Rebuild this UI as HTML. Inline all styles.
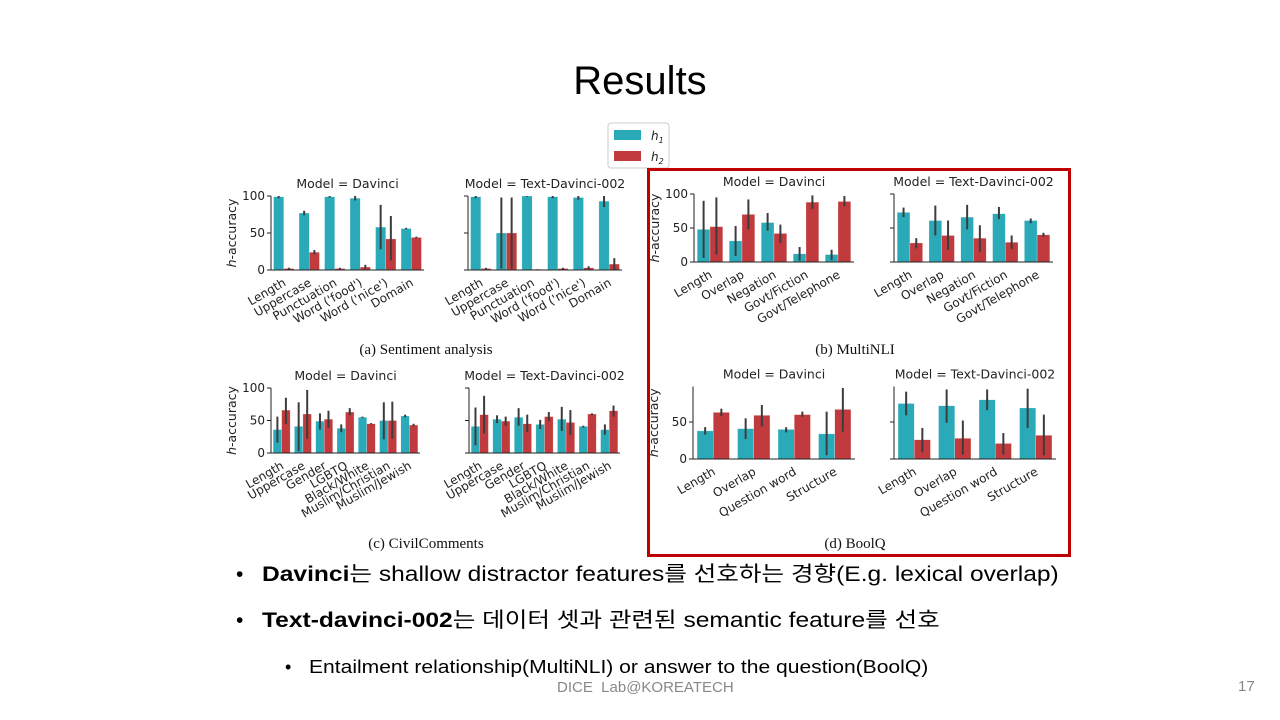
<!DOCTYPE html>
<html><head><meta charset="utf-8">
<style>
html,body{margin:0;padding:0;background:#fff;}
#root{position:relative;width:1280px;height:720px;overflow:hidden;font-family:"Liberation Sans","Noto Sans CJK KR",sans-serif;}
.t{position:absolute;white-space:nowrap;}
.b{transform-origin:0 50%;transform:scaleX(1.17);}
.l1{line-height:30px;height:30px;}
</style></head><body>
<div id="root">
<div class="t" style="left:0;width:1280px;text-align:center;top:59px;font-size:40px;color:#000;">Results</div>
<svg id="chart" width="1280" height="720" style="position:absolute;left:0;top:0" font-family="'DejaVu Sans','Liberation Sans',sans-serif"></svg>
<div class="t l1" style="left:236px;top:560px;font-size:21px;font-family:'Liberation Sans',sans-serif;">•</div>
<div class="t b l1" style="left:262px;top:560px;font-size:21px;"><b>Davinci</b>는 shallow distractor features를 선호하는 경향(E.g. lexical overlap)</div>
<div class="t l1" style="left:236px;top:606px;font-size:21px;font-family:'Liberation Sans',sans-serif;">•</div>
<div class="t b l1" style="left:262px;top:606px;font-size:21px;"><b>Text-davinci-002</b>는 데이터 셋과 관련된 semantic feature를 선호</div>
<div class="t l1" style="left:285px;top:652px;font-size:18px;font-family:'Liberation Sans',sans-serif;">•</div>
<div class="t b l1" style="left:309px;top:652px;font-size:18px;">Entailment relationship(MultiNLI) or answer to the question(BoolQ)</div>
<div class="t" style="left:557px;top:679px;font-size:15px;color:#888;">DICE&nbsp; Lab@KOREATECH</div>
<div class="t" style="left:1238px;top:678px;font-size:15px;color:#888;">17</div>
</div>
<script>
const catsA=["Length","Uppercase","Punctuation","Word ('food')","Word ('nice')","Domain"];
const aDavH1=[99,77,99,97,58,56], aDavH2=[2,24,2,4,42,44];
const aDavE1=[[97,100],[74,80],[98,100],[94,100],[28,88],[55,57]], aDavE2=[[0,3],[21,27],[1,3],[2,7],[13,73],[43,45]];
const aTdH1=[99,50,100,99,98,93], aTdH2=[2,50,1,2,3,8];
const aTdE1=[[97,100],[2,98],[99,100],[97,100],[95,100],[85,100]], aTdE2=[[1,3],[2,98],[0,1],[0,3],[1,5],[0,16]];
const catsB=["Length","Overlap","Negation","Govt/Fiction","Govt/Telephone"];
const bDavH1=[48,31,58,12,11], bDavH2=[52,70,42,88,89];
const bDavE1=[[6,90],[9,53],[46,72],[2,22],[3,18]], bDavE2=[[11,95],[48,92],[28,55],[78,98],[82,97]];
const bTdH1=[73,61,66,71,61], bTdH2=[28,39,35,29,40];
const bTdE1=[[66,80],[39,83],[48,84],[63,81],[57,64]], bTdE2=[[20,35],[18,61],[15,54],[19,39],[37,43]];
const catsC=["Length","Uppercase","Gender","LGBTQ","Black/White","Muslim/Christian","Muslim/Jewish"];
const cDavH1=[36,41,49,38,55,50,57], cDavH2=[66,60,52,63,45,50,43];
const cDavE1=[[16,56],[3,78],[36,61],[32,44],[54,56],[21,78],[55,59]], cDavE2=[[45,85],[22,97],[39,65],[58,69],[44,46],[22,79],[41,45]];
const cTdH1=[41,52,55,44,52,41,36], cTdH2=[59,49,45,56,47,60,65];
const cTdE1=[[12,70],[46,58],[42,69],[37,51],[34,71],[39,42],[28,44]], cTdE2=[[30,88],[42,56],[32,59],[49,63],[28,66],[58,61],[56,73]];
const catsD=["Length","Overlap","Question word","Structure"];
const dDavH1=[38,41,40,34], dDavH2=[63,59,60,67];
const dDavE1=[[33,43],[27,55],[36,43],[5,64]], dDavE2=[[58,68],[44,73],[57,64],[37,96]];
const dTdH1=[75,72,80,69], dTdH2=[26,28,21,32];
const dTdE1=[[59,91],[49,94],[66,94],[42,95]], dTdE2=[[9,42],[6,52],[6,35],[5,60]];
const ticksABC=[0,50,100], ticksD=[0,50];

const NS="http://www.w3.org/2000/svg";
const svg=document.getElementById('chart');
function el(tag,attrs,parent,text){const e=document.createElementNS(NS,tag);for(const k in attrs)e.setAttribute(k,attrs[k]);if(text!==undefined)e.textContent=text;(parent||svg).appendChild(e);return e;}
const C1="#2aa9b8",C2="#c13a3d";

function panel(name,x0,x1,y0,y100,topVal,title,cats,h1,h2,e1,e2,ticks,showLabels,showYTitle){
  const g=el('g',{});
  
  
  const ys=v=>y0-(v/100)*(y0-y100);
  const n=cats.length,step=(x1-x0)/n,bw=step*0.4;
  const tt=el('text',{x:(x0+x1)/2,y:ys(topVal)-8,'text-anchor':'middle','font-size':12.5,fill:'#222'},g,title);
  
  
  for(let i=0;i<n;i++){
    const cx=x0+step*(i+0.5);
    [[h1,e1,C1,-1],[h2,e2,C2,0]].forEach(([h,e,c,off],k)=>{
      const bx=cx+off*bw;
      const r=el('rect',{x:bx,y:ys(h[i]),width:bw,height:y0-ys(h[i]),fill:c,stroke:'#fff','stroke-opacity':0.5,'stroke-width':0.5},g);
      
      
      const l=el('line',{x1:bx+bw/2,x2:bx+bw/2,y1:ys(e[i][0]),y2:ys(e[i][1]),stroke:'#3c3c3c','stroke-width':2},g);
      
      
    });
    const tl=el('text',{x:0,y:0,'text-anchor':'end','font-size':12,fill:'#222',transform:`translate(${cx+3},${y0+15}) rotate(-30)`},g,cats[i]);
    
    
  }
  el('line',{x1:x0,x2:x1,y1:y0,y2:y0,stroke:'#222','stroke-width':1},g);
  el('line',{x1:x0,x2:x0,y1:y0,y2:ys(topVal),stroke:'#222','stroke-width':1},g);
  ticks.forEach(t=>{
    el('line',{x1:x0-4,x2:x0,y1:ys(t),y2:ys(t),stroke:'#222'},g);
    if(showLabels){const yl=el('text',{x:x0-6,y:ys(t)+4,'text-anchor':'end','font-size':12,fill:'#222'},g,String(t));
      
      }
  });
  if(showYTitle){const yt=el('text',{x:0,y:0,'text-anchor':'middle','font-size':12.5,fill:'#222',transform:`translate(${x0-35},${(y0+ys(topVal))/2}) rotate(-90)`},g);
    
    
    el('tspan',{'font-style':'italic'},yt,'h');el('tspan',{},yt,'-accuracy');}
}
panel('panel-a-davinci',271,424,270,196,100,'Model = Davinci',catsA,aDavH1,aDavH2,aDavE1,aDavE2,ticksABC,true,true);
panel('panel-a-td002',468,622,270,196,100,'Model = Text-Davinci-002',catsA,aTdH1,aTdH2,aTdE1,aTdE2,ticksABC,false,false);
panel('panel-b-davinci',694,854,262,194,100,'Model = Davinci',catsB,bDavH1,bDavH2,bDavE1,bDavE2,ticksABC,true,true);
panel('panel-b-td002',894,1053,262,194,100,'Model = Text-Davinci-002',catsB,bTdH1,bTdH2,bTdE1,bTdE2,ticksABC,false,false);
panel('panel-c-davinci',271,420,453,388,100,'Model = Davinci',catsC,cDavH1,cDavH2,cDavE1,cDavE2,ticksABC,true,true);
panel('panel-c-td002',469,620,453,388,100,'Model = Text-Davinci-002',catsC,cTdH1,cTdH2,cTdE1,cTdE2,ticksABC,false,false);
panel('panel-d-davinci',693,855,459,385,98,'Model = Davinci',catsD,dDavH1,dDavH2,dDavE1,dDavE2,ticksD,true,true);
panel('panel-d-td002',894,1056,459,385,98,'Model = Text-Davinci-002',catsD,dTdH1,dTdH2,dTdE1,dTdE2,ticksD,false,false);

[["(a) Sentiment analysis",426,354],["(b) MultiNLI",855,354],["(c) CivilComments",426,548],["(d) BoolQ",855,548]].forEach(c=>{
  const t=el('text',{x:c[1],y:c[2],'text-anchor':'middle','font-size':15,'font-family':"'Liberation Serif',serif",fill:'#111'},svg,c[0]);
  
  
});
const lg=el('g',{});


el('rect',{x:608,y:123,width:61,height:45,rx:3,fill:'#fff',stroke:'#ccc'},lg);
el('rect',{x:614,y:130,width:27,height:10,fill:C1},lg);
el('rect',{x:614,y:151,width:27,height:10,fill:C2},lg);
const l1=el('text',{x:651,y:140,'font-size':12,'font-style':'italic',fill:'#222'},lg,'h');el('tspan',{'font-size':8,dy:3},l1,'1');
const l2=el('text',{x:651,y:161,'font-size':12,'font-style':'italic',fill:'#222'},lg,'h');el('tspan',{'font-size':8,dy:3},l2,'2');
const fr=el('rect',{x:648.5,y:169.5,width:421,height:386,fill:'none',stroke:'#c00000','stroke-width':3});


</script>
</body></html>
